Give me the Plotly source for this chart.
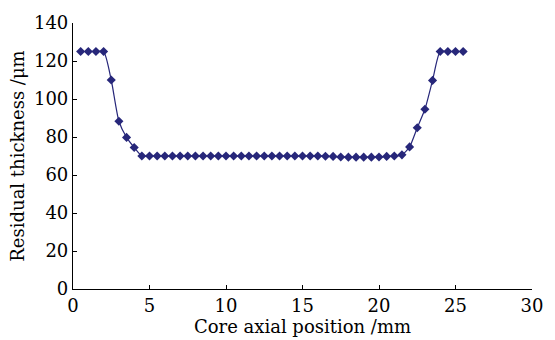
import plotly.graph_objects as go

position_mm = [0.5, 1.0, 1.5, 2.0, 2.5, 3.0, 3.5, 4.0, 4.5, 5.0,
               5.5, 6.0, 6.5, 7.0, 7.5, 8.0, 8.5, 9.0, 9.5, 10.0,
               10.5, 11.0, 11.5, 12.0, 12.5, 13.0, 13.5, 14.0, 14.5, 15.0,
               15.5, 16.0, 16.5, 17.0, 17.5, 18.0, 18.5, 19.0, 19.5, 20.0,
               20.5, 21.0, 21.5, 22.0, 22.5, 23.0, 23.5, 24.0, 24.5, 25.0,
               25.5]
thickness_um = [125, 125, 125, 125, 110, 88.3, 79.8, 74.5, 70, 70,
                70, 70, 70, 70, 70, 70, 70, 70, 70, 70,
                70, 70, 70, 70, 70, 70, 70, 70, 70, 70,
                70, 70, 69.9, 69.8, 69.5, 69.4, 69.4, 69.4, 69.4, 69.5,
                69.8, 70.0, 70.6, 74.8, 84.9, 94.6, 109.8, 125, 125, 125,
                125]

x_ticks = [0, 5, 10, 15, 20, 25, 30]
y_ticks = [0, 20, 40, 60, 80, 100, 120, 140]

color = "#27277a"
font_family = "DejaVu Serif, Liberation Serif, serif"

fig = go.Figure()
fig.add_trace(go.Scatter(
    x=position_mm, y=thickness_um,
    mode="lines+markers",
    line=dict(color=color, width=1.2, shape="spline", smoothing=0.6),
    marker=dict(symbol="diamond", size=7, color=color),
    showlegend=False,
))

axis_common = dict(
    showgrid=False, zeroline=False,
    showline=True, linecolor="black", linewidth=1.2,
    ticks="inside", ticklen=4, tickcolor="black", tickwidth=1,
    tickfont=dict(family=font_family, size=18, color="black"),
    mirror=False,
)

fig.update_xaxes(range=[0, 30], tickvals=x_ticks, ticktext=[str(v) for v in x_ticks],
                 title=dict(text="Core axial position /mm", standoff=0,
                            font=dict(family=font_family, size=18, color="black")),
                 **axis_common)
fig.update_yaxes(range=[0, 140], tickvals=y_ticks, ticktext=[str(v) for v in y_ticks],
                 title=dict(text="Residual thickness /μm", standoff=4,
                            font=dict(family=font_family, size=18, color="black")),
                 **axis_common)

fig.update_layout(
    width=555, height=340,
    margin=dict(l=73, r=23, t=13, b=51),
    paper_bgcolor="white", plot_bgcolor="white",
    font=dict(family=font_family, color="black"),
)

fig.write_html("out.html")
